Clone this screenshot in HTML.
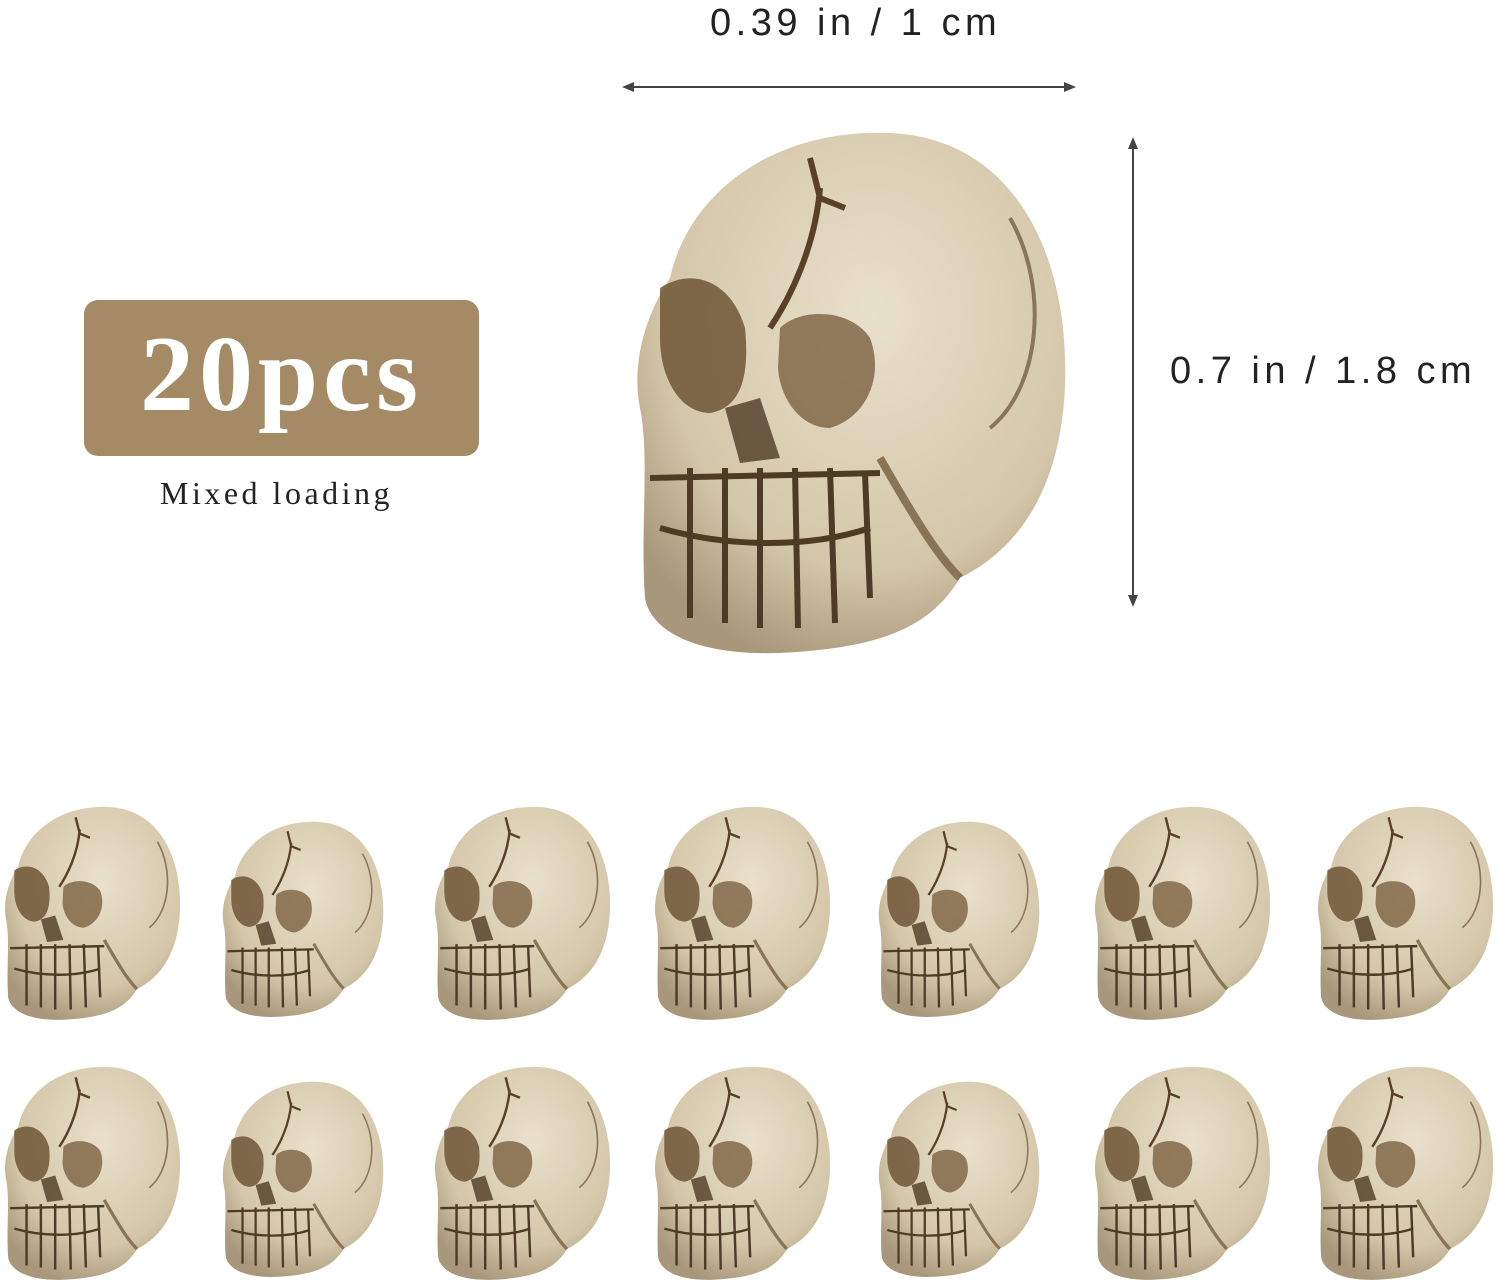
<!DOCTYPE html>
<html><head><meta charset="utf-8"><style>
body{margin:0;width:1500px;height:1280px;background:#fff;position:relative;overflow:hidden;font-family:"Liberation Sans",sans-serif}
.t{position:absolute;color:#222;white-space:nowrap}
</style></head><body>
<svg width="0" height="0" style="position:absolute">
<defs>
<radialGradient id="g" cx="0.55" cy="0.35" r="0.7"><stop offset="0" stop-color="#e9e0cc"/><stop offset="0.7" stop-color="#d4c6a8"/><stop offset="1" stop-color="#a8977a"/></radialGradient>
<symbol id="skull" viewBox="0 0 440 530">
<path d="M40 150C60 60 150 0 260 5C380 10 440 120 435 260C430 360 390 420 330 450C300 500 250 520 150 525C60 528 20 500 15 470C10 400 20 330 10 280C0 230 20 180 40 150Z" fill="url(#g)"/>
<path d="M30 160C60 140 100 150 115 200C120 250 110 280 80 285C50 285 30 250 30 210Z" fill="#6e5636" opacity="0.85"/>
<path d="M150 200C170 180 220 180 240 210C255 250 235 290 200 300C170 300 150 270 148 240Z" fill="#7a6240" opacity="0.8"/>
<path d="M95 280L130 270L150 330L110 335Z" fill="#4e3b26" opacity="0.8"/>
<path d="M190 60C185 120 160 170 140 200M180 30L190 70L215 80" stroke="#5a4028" stroke-width="6" fill="none"/>
<path d="M380 90C420 160 410 260 360 300" stroke="#6a5034" stroke-width="4" fill="none" opacity="0.7"/>
<g stroke="#4e3b26" stroke-width="6" fill="none">
<path d="M30 400C100 420 180 420 240 400"/>
<path d="M20 350L250 345"/>
<path d="M60 340L60 490M95 340L95 495M130 340L130 500M165 340L168 500M200 340L205 495M235 345L240 470"/>
</g>
<path d="M250 330C290 400 310 430 330 450" stroke="#8a7456" stroke-width="8" fill="none"/>
</symbol>
</defs></svg>

<div class="t" style="left:710px;top:2px;font-size:38px;letter-spacing:4.5px">0.39 in / 1 cm</div>
<svg style="position:absolute;left:620px;top:78px" width="460" height="20"><line x1="6" y1="9" x2="452" y2="9" stroke="#444" stroke-width="2"/><path d="M2 9L14 4L14 14Z M456 9L444 4L444 14Z" fill="#444"/></svg>
<svg style="position:absolute;left:1123px;top:135px" width="20" height="475"><line x1="10" y1="6" x2="10" y2="468" stroke="#444" stroke-width="2"/><path d="M10 2L5 14L15 14Z M10 472L5 460L15 460Z" fill="#444"/></svg>
<div class="t" style="left:1170px;top:350px;font-size:38px;letter-spacing:4.5px">0.7 in / 1.8 cm</div>

<div style="position:absolute;left:84px;top:300px;width:395px;height:156px;background:#a48b66;border-radius:14px;color:#fff;font-family:'Liberation Serif',serif;font-weight:bold;font-size:108px;letter-spacing:5px;text-align:center;line-height:150px">20pcs</div>
<div class="t" style="left:160px;top:475px;font-family:'Liberation Serif',serif;font-size:32px;letter-spacing:3.5px">Mixed loading</div>

<svg style="position:absolute;left:630px;top:128px" width="440" height="530"><use href="#skull"/></svg>

<div id="grid"></div>
<script>
const xs=[2,212,432,652,868,1092,1315];
const ys=[805,1065];
const g=document.getElementById('grid');
ys.forEach((y,r)=>xs.forEach((x,i)=>{
 const w=(i%3===1)?165:180;
 const s=document.createElementNS('http://www.w3.org/2000/svg','svg');
 
 
 s.setAttribute('width',w);s.setAttribute('height',w*530/440);
 s.setAttribute('style','position:absolute;left:'+(x+(180-w)/2)+'px;top:'+(y+(i%3===1?15:0))+'px');
 s.innerHTML='<use href="#skull"/>';
 g.appendChild(s);
}));
</script>
</body></html>
